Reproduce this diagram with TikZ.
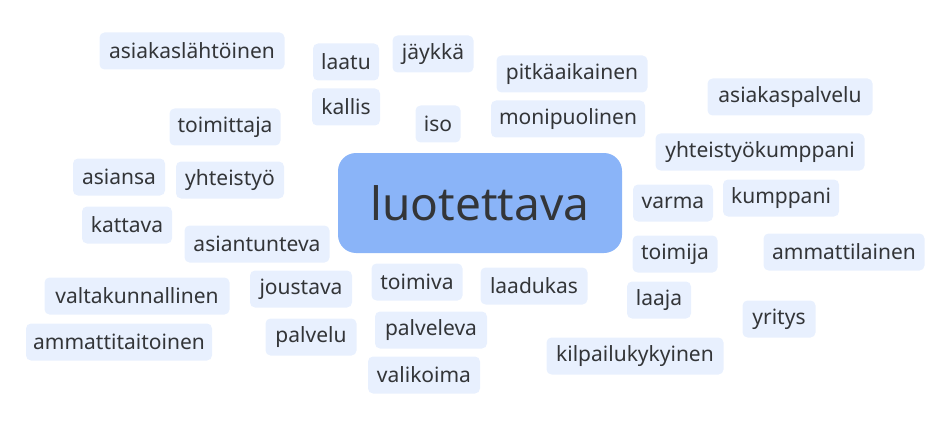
\documentclass[tikz,border=0pt]{standalone}
\usepackage{fontspec}
\setmainfont{Noto Sans}
\definecolor{chip}{HTML}{E8F0FE}
\definecolor{mainchip}{HTML}{8AB4F8}
\definecolor{txt}{HTML}{333538}
\begin{document}
\begin{tikzpicture}[x=1pt,y=-1pt,
  word/.style={fill=chip,rounded corners=5pt,text=txt,font=\fontsize{21}{21}\selectfont,minimum height=37pt,inner sep=0pt,anchor=center},
  big/.style={fill=mainchip,rounded corners=18pt,text=txt,font=\fontsize{46}{46}\selectfont,minimum height=100pt,minimum width=284pt,inner sep=0pt}]
\useasboundingbox (0,0) rectangle (950,425);
\node[big] (luotettava) at (480,203) {luotettava};
\node[word,minimum width=185pt] (w1) at (192,51) {asiakaslähtöinen};
\node[word,minimum width=66pt] (w2) at (346,62) {laatu};
\node[word,minimum width=81pt] (w3) at (433,54) {jäykkä};
\node[word,minimum width=68pt] (w4) at (346,107) {kallis};
\node[word,minimum width=45pt] (w5) at (438,124) {iso};
\node[word,minimum width=111pt] (w6) at (225,127) {toimittaja};
\node[word,minimum width=92pt] (w7) at (119,177) {asiansa};
\node[word,minimum width=108pt] (w8) at (230,180) {yhteistyö};
\node[word,minimum width=151pt] (w9) at (572,74) {pitkäaikainen};
\node[word,minimum width=154pt] (w10) at (568,119) {monipuolinen};
\node[word,minimum width=165pt] (w11) at (790,97) {asiakaspalvelu};
\node[word,minimum width=209pt] (w12) at (760,152) {yhteistyökumppani};
\node[word,minimum width=80pt] (w13) at (673,203) {varma};
\node[word,minimum width=116pt] (w14) at (781,198) {kumppani};
\node[word,minimum width=90pt] (w15) at (127,225) {kattava};
\node[word,minimum width=145pt] (w16) at (257,244) {asiantunteva};
\node[word,minimum width=185pt] (w17) at (137,296) {valtakunnallinen};
\node[word,minimum width=102pt] (w18) at (301,289) {joustava};
\node[word,minimum width=91pt] (w19) at (417,282) {toimiva};
\node[word,minimum width=186pt] (w20) at (119,342) {ammattitaitoinen};
\node[word,minimum width=91pt] (w21) at (311,337) {palvelu};
\node[word,minimum width=112pt] (w22) at (431,330) {palveleva};
\node[word,minimum width=112pt] (w23) at (424,375) {valikoima};
\node[word,minimum width=85pt] (w24) at (675,254) {toimija};
\node[word,minimum width=161pt] (w25) at (844,252) {ammattilainen};
\node[word,minimum width=107pt] (w26) at (534,286) {laadukas};
\node[word,minimum width=64pt] (w27) at (659,300) {laaja};
\node[word,minimum width=73pt] (w28) at (779,319) {yritys};
\node[word,minimum width=177pt] (w29) at (635,356) {kilpailukykyinen};
\end{tikzpicture}
\end{document}
